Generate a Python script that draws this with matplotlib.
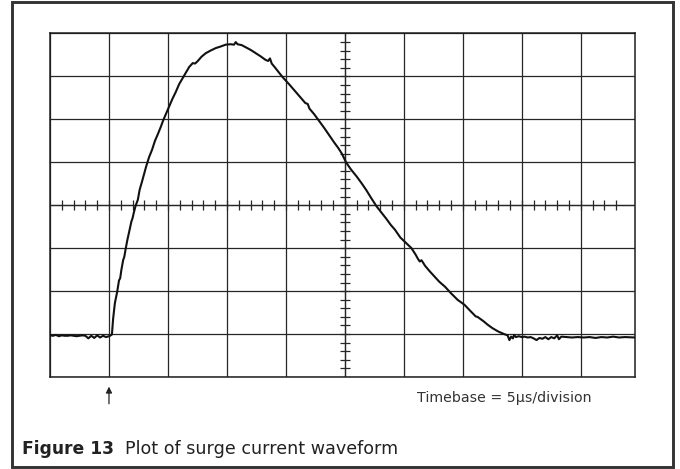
import numpy as np
import matplotlib
matplotlib.use('Agg')
import matplotlib.pyplot as plt
from matplotlib.patches import Rectangle

# Scope trace, in graticule divisions (x: 5 us/div)
time_div = [
    0.00, 0.05, 0.10, 0.15, 0.20, 0.25, 0.30, 0.35, 0.40, 0.45, 0.50, 0.55,
    0.60, 0.65, 0.70, 0.75, 0.80, 0.85, 0.90, 0.95, 1.00, 1.03,
    1.05, 1.07, 1.10, 1.12, 1.14, 1.17, 1.19, 1.21, 1.24, 1.26, 1.28, 1.31,
    1.33, 1.35, 1.38, 1.40, 1.42, 1.45, 1.49, 1.52, 1.56, 1.60, 1.63, 1.68,
    1.73, 1.78, 1.83, 1.88, 1.92, 1.97, 2.02, 2.08, 2.13, 2.19, 2.25, 2.30,
    2.36, 2.42, 2.46, 2.50, 2.57, 2.64, 2.72, 2.81, 2.90, 2.98, 3.06, 3.12,
    3.15, 3.18, 3.25, 3.32, 3.40, 3.49, 3.57, 3.65, 3.70, 3.73, 3.76, 3.82,
    3.90, 3.96, 4.06, 4.16, 4.24, 4.33, 4.37, 4.40, 4.48, 4.55, 4.65, 4.75,
    4.82, 4.89, 4.95, 5.02, 5.10, 5.20, 5.28, 5.36, 5.45, 5.54, 5.62, 5.70,
    5.78, 5.85, 5.94, 6.04, 6.13, 6.20, 6.24, 6.27, 6.30, 6.36, 6.44, 6.52,
    6.60, 6.70, 6.80, 6.91, 7.03, 7.12, 7.22, 7.25, 7.35, 7.42, 7.50, 7.60,
    7.70, 7.76, 7.79, 7.82, 7.85, 7.87, 7.90, 7.95, 8.00, 8.05, 8.10, 8.15,
    8.20, 8.25, 8.30, 8.35, 8.40, 8.45, 8.50, 8.55, 8.60, 8.63, 8.67, 8.75,
    8.85, 8.95, 9.05, 9.15, 9.25, 9.35, 9.45, 9.55, 9.65, 9.75, 9.92,
]
current_div = [
    0.97, 0.96, 0.98, 0.95, 0.97, 0.96, 0.96, 0.97, 0.96, 0.95, 0.96, 0.97,
    0.96, 0.90, 0.96, 0.91, 0.97, 0.92, 0.96, 0.93, 0.95, 0.97,
    0.99, 1.35, 1.72, 1.85, 1.99, 2.25, 2.30, 2.49, 2.72, 2.80, 2.96, 3.18,
    3.30, 3.43, 3.62, 3.70, 3.82, 3.98, 4.13, 4.36, 4.55, 4.75, 4.90, 5.12,
    5.29, 5.50, 5.66, 5.83, 5.98, 6.14, 6.30, 6.49, 6.63, 6.82, 6.96, 7.08,
    7.22, 7.31, 7.30, 7.35, 7.46, 7.54, 7.60, 7.66, 7.70, 7.74, 7.75, 7.74,
    7.80, 7.75, 7.73, 7.68, 7.62, 7.54, 7.47, 7.39, 7.36, 7.42, 7.30, 7.20,
    7.06, 6.96, 6.81, 6.65, 6.52, 6.38, 6.36, 6.25, 6.12, 5.99, 5.80, 5.60,
    5.46, 5.33, 5.20, 5.00, 4.84, 4.67, 4.52, 4.36, 4.16, 3.97, 3.83, 3.69,
    3.54, 3.43, 3.25, 3.12, 3.00, 2.85, 2.75, 2.69, 2.72, 2.59, 2.46, 2.34,
    2.22, 2.10, 1.95, 1.80, 1.68, 1.55, 1.41, 1.40, 1.30, 1.22, 1.14, 1.06,
    1.00, 0.97, 0.86, 0.94, 0.90, 0.98, 0.93, 0.95, 0.93, 0.94, 0.92, 0.93,
    0.90, 0.86, 0.91, 0.89, 0.93, 0.88, 0.93, 0.90, 0.97, 0.88, 0.94, 0.93,
    0.92, 0.93, 0.92, 0.93, 0.91, 0.93, 0.92, 0.94, 0.92, 0.93, 0.92,
]

trigger_div = 1.0
timebase_label = 'Timebase = 5\u00b5s/division'
fig_label = 'Figure 13'
fig_title = 'Plot of surge current waveform'

X_MAX = 9.92   # screen is cropped inside the 10th division
Y_MAX = 8
GRID = '#262626'

fig = plt.figure(figsize=(6.8, 4.69), dpi=100)
ax = fig.add_axes([50 / 680, 92 / 469, 585 / 680, 343.5 / 469])

# graticule
ax.set_xlim(0, X_MAX)
ax.set_ylim(0, Y_MAX)
ax.set_xticks(np.arange(0, 10))
ax.set_yticks(np.arange(0, Y_MAX + 1))
ax.grid(True, color=GRID, lw=0.9)
ax.tick_params(length=0, labelbottom=False, labelleft=False)
for sp in ax.spines.values():
    sp.set_color('#1e1e1e')
    sp.set_linewidth(1.1)

# centre lines with fifth-division marks
ax.axhline(4, color=GRID, lw=0.9)
ax.axvline(5, color=GRID, lw=0.9)
xt = np.arange(0.2, 9.7, 0.2)
ax.vlines(xt, 4 - 0.12, 4 + 0.12, color=GRID, lw=0.9)
yt = np.arange(0.2, Y_MAX, 0.2)
ax.hlines(yt, 5 - 0.09, 5 + 0.09, color=GRID, lw=0.9)

# trace
ax.plot(time_div, current_div, color='#111111', lw=1.5, zorder=5)

# trigger arrow under the graticule
ax.annotate('', xy=(trigger_div, -0.028), xytext=(trigger_div, -0.078),
            xycoords=ax.get_xaxis_transform(),
            textcoords=ax.get_xaxis_transform(),
            arrowprops=dict(arrowstyle='-|>', color='#222222', lw=0.9,
                            mutation_scale=9, shrinkA=0, shrinkB=0),
            annotation_clip=False)

fig.text(417 / 680, 1 - 402 / 469, timebase_label, fontsize=10.2,
         color='#333333', ha='left', va='baseline')
fig.text(22 / 680, 1 - 454 / 469, fig_label, fontsize=12.3,
         fontweight='bold', color='#222222', ha='left', va='baseline')
fig.text(125 / 680, 1 - 454 / 469, fig_title, fontsize=12.6,
         color='#222222', ha='left', va='baseline')

# outer frame
fig.patches.append(Rectangle((12 / 680, 2 / 469), 661 / 680, 465 / 469,
                             transform=fig.transFigure, fill=False,
                             ec='#333333', lw=2.1))

fig.savefig('out.png', dpi=100)
